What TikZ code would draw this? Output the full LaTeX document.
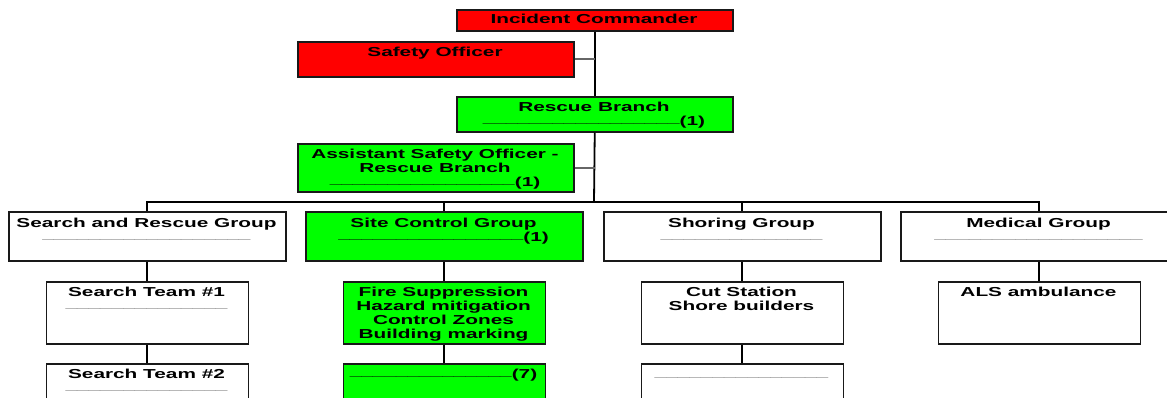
\documentclass[tikz,border=0pt]{standalone}
\usepackage{fontspec}
\newfontfamily\chartfont{Liberation Sans}[FakeStretch=1.6]
\ExplSyntaxOn
\NewDocumentCommand\blankline{m}{\raisebox{2.5pt}{\prg_replicate:nn{#1}{\_}}}
\ExplSyntaxOff
\definecolor{cmdred}{RGB}{255,0,0}
\definecolor{opsgreen}{RGB}{0,255,0}
\tikzset{
  box/.style={draw=black!90, line width=1.5pt, inner sep=0pt, anchor=north west},
  redbox/.style={box, fill=cmdred},
  greenbox/.style={box, fill=opsgreen},
  whitebox/.style={box, fill=white},
  txt/.style={font=\chartfont\bfseries\fontsize{13}{14}\selectfont, inner sep=0pt, align=center, anchor=north},
  conn/.style={draw=black, line width=1.8pt},
  stub/.style={draw=black!60, line width=1.8pt}
}
\begin{document}
\begin{tikzpicture}[x=1pt,y=-1pt]
\useasboundingbox (0,0) rectangle (1167,397);
\clip (0,0) rectangle (1167,397);
\fill[white] (0,0) rectangle (1167,397);

% command staff
\node[redbox, minimum width=276pt, minimum height=21pt] (ic) at (456,9) {};
\node[txt] (ic-t) at (594,13.9) {Incident Commander};
\node[redbox, minimum width=276pt, minimum height=35pt] (so) at (297,41) {};
\node[txt] (so-t) at (435,46.4) {Safety Officer};
\node[greenbox, minimum width=276pt, minimum height=35pt] (rb) at (456,96) {};
\node[txt] (rb-t) at (594,101.4) {Rescue Branch\\\blankline{17}(1)};
\node[greenbox, minimum width=276pt, minimum height=48pt] (aso) at (297,143) {};
\node[txt] (aso-t) at (435,148.4) {Assistant Safety Officer -\\Rescue Branch\\\blankline{16}(1)};

% groups
\node[whitebox, minimum width=277pt, minimum height=49pt] (sar) at (8,211) {};
\node[txt] (sar-t) at (146.5,217.4) {Search and Rescue Group\\{\color{black!55}\blankline{18}}};
\node[greenbox, minimum width=277pt, minimum height=49pt] (scg) at (305,211) {};
\node[txt] (scg-t) at (443.5,217.4) {Site Control Group\\\blankline{16}(1)};
\node[whitebox, minimum width=277pt, minimum height=49pt] (shg) at (603,211) {};
\node[txt] (shg-t) at (741.5,217.4) {Shoring Group\\{\color{black!55}\blankline{14}}};
\node[whitebox, minimum width=277pt, minimum height=49pt] (mg) at (900,211) {};
\node[txt] (mg-t) at (1038.5,217.4) {Medical Group\\{\color{black!55}\blankline{18}}};

% teams and units
\node[whitebox, minimum width=202pt, minimum height=62pt] (st1) at (45.5,281) {};
\node[txt] (st1-t) at (146.5,286.4) {Search Team \#1\\{\color{black!55}\blankline{14}}};
\node[greenbox, minimum width=202pt, minimum height=62pt] (fs) at (342.5,281) {};
\node[txt] (fs-t) at (443.5,286.4) {Fire Suppression\\Hazard mitigation\\Control Zones\\Building marking};
\node[whitebox, minimum width=202pt, minimum height=62pt] (cs) at (640.5,281) {};
\node[txt] (cs-t) at (741.5,286.4) {Cut Station\\Shore builders};
\node[whitebox, minimum width=202pt, minimum height=62pt] (als) at (937.5,281) {};
\node[txt] (als-t) at (1038.5,286.4) {ALS ambulance};

\node[whitebox, minimum width=202pt, minimum height=62pt] (st2) at (45.5,363) {};
\node[txt] (st2-t) at (146.5,368.4) {Search Team \#2\\{\color{black!55}\blankline{14}}};
\node[greenbox, minimum width=202pt, minimum height=62pt] (crew) at (342.5,363) {};
\node[txt, anchor=base] (crew-t) at (443.5,378.4) {\blankline{14}(7)};
\node[whitebox, minimum width=202pt, minimum height=62pt] (sb) at (640.5,363) {};
\node[txt, anchor=base] (sb-t) at (741.5,379.2) {{\color{black!55}\blankline{15}}};

% chain of command
\coordinate (hub) at (594,202);
\draw[conn] (ic.south) -- (rb.north);
\draw[conn] (rb.south) -- (hub);
\draw[stub] (so.east) -- (so.east -| ic.south);
\draw[stub] (aso.east) -- (aso.east -| rb.south);
\draw[conn] (sar.north) |- (hub) -| (mg.north);
\draw[conn] (scg.north) -- (scg.north |- hub);
\draw[conn] (shg.north) -- (shg.north |- hub);
\draw[conn] (sar.south) -- (st1.north);
\draw[conn] (scg.south) -- (fs.north);
\draw[conn] (shg.south) -- (cs.north);
\draw[conn] (mg.south) -- (als.north);
\draw[conn] (st1.south) -- (st2.north);
\draw[conn] (fs.south) -- (crew.north);
\draw[conn] (cs.south) -- (sb.north);
\end{tikzpicture}
\end{document}
